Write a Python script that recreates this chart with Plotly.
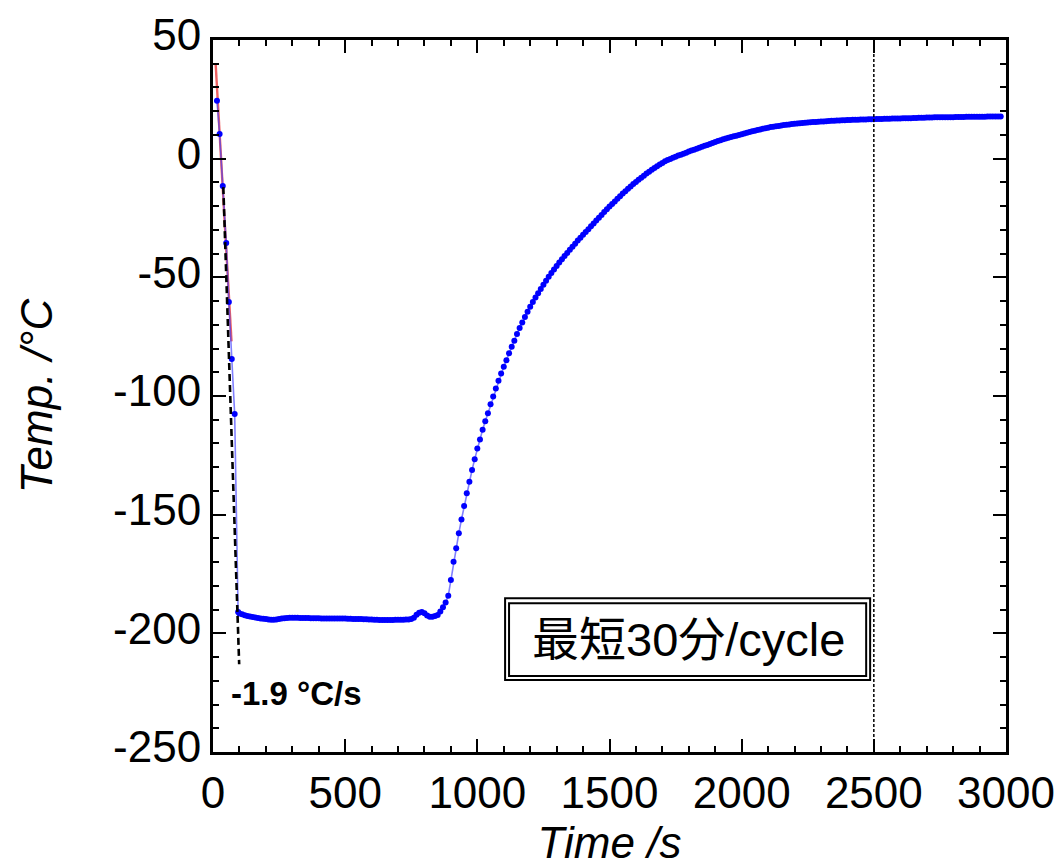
import plotly.graph_objects as go

# ---- data ----
time_drop = [15, 25, 37, 50, 60, 71, 82, 95]
temp_drop = [24.4, 10.4, -11.5, -35.5, -60.4, -84.4, -107.6, -191.0]

time_hold = [100, 110, 120, 130, 140, 150, 160, 170, 180, 190,
             200, 210, 220, 230, 240, 250, 260, 270, 280, 290,
             300, 310, 320, 330, 340, 350, 360, 370, 380, 390,
             400, 410, 420, 430, 440, 450, 460, 470, 480, 490,
             500, 510, 520, 530, 540, 550, 560, 570, 580, 590,
             600, 610, 620, 630, 640, 650, 660, 670, 680, 690,
             700, 710, 720, 730, 740, 750, 760, 770, 780, 790,
             800, 810, 820, 830, 840, 850, 860, 870, 880, 890]
temp_hold = [-191.6, -192.0, -192.4, -192.7, -192.9, -193.1, -193.3, -193.5, -193.7, -193.9,
             -194.0, -194.2, -194.3, -194.3, -194.2, -194.0, -193.8, -193.6, -193.5, -193.4,
             -193.4, -193.4, -193.4, -193.5, -193.5, -193.5, -193.5, -193.6, -193.6, -193.6,
             -193.6, -193.7, -193.7, -193.7, -193.7, -193.7, -193.7, -193.8, -193.8, -193.8,
             -193.8, -193.9, -193.9, -194.0, -194.0, -194.0, -194.0, -194.1, -194.1, -194.2,
             -194.2, -194.3, -194.3, -194.4, -194.4, -194.4, -194.4, -194.4, -194.4, -194.3,
             -194.3, -194.3, -194.3, -194.2, -194.2, -194.0, -193.4, -192.2, -191.3, -191.0,
             -191.5, -192.5, -193.0, -193.0, -192.7, -192.3, -190.8, -189.0, -187.0, -184.2]

time_warm = [900, 910, 920, 930, 940, 950, 960, 970, 980, 990,
             1000, 1010, 1020, 1030, 1040, 1050, 1060, 1070, 1080, 1090,
             1100, 1110, 1120, 1130, 1140, 1150, 1160, 1170, 1180, 1190,
             1200, 1210, 1220, 1230, 1240, 1250, 1260, 1270, 1280, 1290,
             1300, 1310, 1320, 1330, 1340, 1350, 1360, 1370, 1380, 1390,
             1400, 1410, 1420, 1430, 1440, 1450, 1460, 1470, 1480, 1490,
             1500, 1510, 1520, 1530, 1540, 1550, 1560, 1570, 1580, 1590,
             1600, 1610, 1620, 1630, 1640, 1650, 1660, 1670, 1680, 1690,
             1700, 1710]
temp_warm = [-177.5, -169.8, -164.2, -157.8, -152.0, -146.4, -141.0, -136.1, -131.2, -126.6,
             -122.1, -118.3, -114.2, -110.6, -107.3, -103.5, -100.2, -96.8, -93.6, -90.5,
             -87.7, -84.9, -82.0, -79.3, -76.7, -73.9, -71.4, -69.0, -66.7, -64.5,
             -62.4, -60.4, -58.5, -56.7, -54.9, -53.1, -51.4, -49.8, -48.2, -46.7,
             -45.2, -43.8, -42.4, -41.0, -39.7, -38.4, -37.1, -35.8, -34.5, -33.3,
             -32.1, -30.9, -29.7, -28.5, -27.3, -26.1, -24.9, -23.7, -22.5, -21.3,
             -20.2, -19.1, -18.0, -16.9, -15.8, -14.7, -13.7, -12.7, -11.7, -10.7,
             -9.8, -8.9, -8.0, -7.2, -6.3, -5.5, -4.7, -3.9, -3.2, -2.5,
             -1.8, -1.1]

time_room = [1720, 1730, 1740, 1750, 1760, 1770, 1780, 1790, 1800, 1810,
             1820, 1830, 1840, 1850, 1860, 1870, 1880, 1890, 1900, 1910,
             1920, 1930, 1940, 1950, 1960, 1970, 1980, 1990, 2000, 2010,
             2020, 2030, 2040, 2050, 2060, 2070, 2080, 2090, 2100, 2110,
             2120, 2130, 2140, 2150, 2160, 2170, 2180, 2190, 2200, 2210,
             2220, 2230, 2240, 2250, 2260, 2270, 2280, 2290, 2300, 2310,
             2320, 2330, 2340, 2350, 2360, 2370, 2380, 2390, 2400, 2410,
             2420, 2430, 2440, 2450, 2460, 2470, 2480, 2490, 2500, 2510,
             2520, 2530, 2540, 2550, 2560, 2570, 2580, 2590, 2600, 2610,
             2620, 2630, 2640, 2650, 2660, 2670, 2680, 2690, 2700, 2710,
             2720, 2730, 2740, 2750, 2760, 2770, 2780, 2790, 2800, 2810,
             2820, 2830, 2840, 2850, 2860, 2870, 2880, 2890, 2900, 2910,
             2920, 2930, 2940, 2950, 2960, 2970, 2980]
temp_room = [-0.6, -0.1, 0.4, 0.8, 1.3, 1.7, 2.1, 2.5, 3.0, 3.4,
             3.8, 4.2, 4.6, 5.0, 5.4, 5.8, 6.2, 6.6, 7.0, 7.4,
             7.8, 8.2, 8.5, 8.8, 9.1, 9.4, 9.7, 10.0, 10.3, 10.6,
             10.9, 11.2, 11.5, 11.8, 12.1, 12.3, 12.6, 12.8, 13.0, 13.3,
             13.5, 13.7, 13.8, 14.0, 14.2, 14.3, 14.4, 14.6, 14.7, 14.8,
             14.9, 15.0, 15.1, 15.2, 15.3, 15.4, 15.5, 15.6, 15.7, 15.7,
             15.8, 15.9, 16.0, 16.0, 16.1, 16.1, 16.2, 16.2, 16.3, 16.3,
             16.4, 16.4, 16.4, 16.5, 16.5, 16.5, 16.6, 16.6, 16.6, 16.7,
             16.7, 16.7, 16.8, 16.8, 16.8, 16.9, 16.9, 16.9, 16.9, 17.0,
             17.0, 17.0, 17.0, 17.1, 17.1, 17.2, 17.2, 17.2, 17.3, 17.3,
             17.3, 17.4, 17.4, 17.4, 17.4, 17.5, 17.5, 17.5, 17.5, 17.6,
             17.6, 17.6, 17.6, 17.7, 17.7, 17.7, 17.7, 17.7, 17.7, 17.7,
             17.7, 17.8, 17.8, 17.8, 17.8, 17.8, 17.8]

fit_time = [10, 70]
fit_temp = [40, -77]
rate_time = [39, 99]
rate_temp = [-12, -213]
cycle_time = 2500

x_ticks = [0, 500, 1000, 1500, 2000, 2500, 3000]
x_ticktext = ["0", "500", "1000", "1500", "2000", "2500", "3000"]
y_ticks = [-250, -200, -150, -100, -50, 0, 50]
y_ticktext = ["-250", "-200", "-150", "-100", "-50", "0", "50"]

rate_label = "-1.9 °C/s"
box_label = "最短30分/cycle"

time_s = time_drop + time_hold + time_warm + time_room
temp_c = temp_drop + temp_hold + temp_warm + temp_room

FONT = "Liberation Sans, Arial, Noto Sans CJK JP, sans-serif"

fig = go.Figure()
fig.add_trace(go.Scatter(x=fit_time, y=fit_temp, mode="lines",
                         line=dict(color="rgba(235,70,70,0.85)", width=2.4),
                         hoverinfo="skip", showlegend=False))
fig.add_trace(go.Scatter(x=time_s, y=temp_c, mode="lines+markers",
                         line=dict(color="rgba(60,60,255,0.65)", width=1.6),
                         marker=dict(color="#0000ff", size=6, line=dict(width=0)),
                         showlegend=False))
fig.add_trace(go.Scatter(x=rate_time, y=rate_temp, mode="lines",
                         line=dict(color="black", width=2.6, dash="7px,4px"),
                         hoverinfo="skip", showlegend=False))

fig.add_shape(type="line", x0=cycle_time, x1=cycle_time, y0=0, y1=1, yref="paper", xref="x",
              line=dict(color="black", width=1.5, dash="3px,2px"), layer="above")

# double-bordered label box
fig.add_shape(type="rect", xref="x", yref="y", x0=1105, x1=2486, y0=-219.7, y1=-185.2,
              line=dict(color="black", width=2), fillcolor="white", layer="above")
fig.add_shape(type="rect", xref="x", yref="y", x0=1120, x1=2471, y0=-218.0, y1=-187.3,
              line=dict(color="black", width=2), layer="above")

fig.add_annotation(x=1797, y=-202.4, xref="x", yref="y", text=box_label, showarrow=False,
                   font=dict(family=FONT, size=47, color="black"), xanchor="center", yanchor="middle")
fig.add_annotation(x=314, y=-225.2, xref="x", yref="y", text="<b>" + rate_label + "</b>",
                   showarrow=False, font=dict(family=FONT, size=33, color="black"),
                   xanchor="center", yanchor="middle")

axis_common = dict(
    showline=True, linecolor="black", linewidth=3, mirror="allticks",
    ticks="inside", ticklen=13, tickwidth=2, tickcolor="black",
    showgrid=False, zeroline=False, automargin=False,
    tickfont=dict(family=FONT, size=44, color="black"),
)

fig.update_xaxes(range=[0, 3000], tickmode="array", tickvals=x_ticks, ticktext=x_ticktext,
                 minor=dict(ticks="inside", dtick=100, tick0=0, ticklen=6, tickwidth=1.5,
                            tickcolor="black", showgrid=False),
                 title=dict(text="<i>Time /s</i>", font=dict(family=FONT, size=44, color="black"),
                            standoff=12),
                 **axis_common)
fig.update_yaxes(range=[-250, 50], tickmode="array", tickvals=y_ticks, ticktext=y_ticktext,
                 ticklabelshift=-5,
                 minor=dict(ticks="inside", dtick=10, tick0=0, ticklen=6, tickwidth=1.5,
                            tickcolor="black", showgrid=False),
                 title=dict(text="<i>Temp. /°C</i>", font=dict(family=FONT, size=44, color="black"),
                            standoff=47),
                 **axis_common)

fig.update_layout(width=1059, height=868, margin=dict(l=213, r=53, t=40, b=116),
                  paper_bgcolor="white", plot_bgcolor="white", showlegend=False)

fig.write_html("out.html")
